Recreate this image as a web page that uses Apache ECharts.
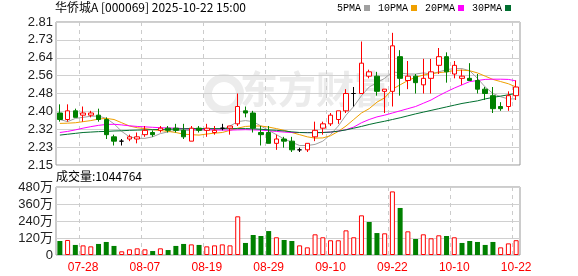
<!DOCTYPE html>
<html><head><meta charset="utf-8">
<script src="https://cdn.jsdelivr.net/npm/echarts@6/dist/echarts.min.js"></script>
<style>html,body{margin:0;padding:0;background:#fff}#c{width:578px;height:276px}</style>
</head><body><div id="c"></div>
<script>
const dates = ['07-23','07-24','07-25','07-28','07-29','07-30','07-31','08-01','08-04','08-05','08-06','08-07','08-08','08-11','08-12','08-13','08-14','08-15','08-18','08-19','08-20','08-21','08-22','08-25','08-26','08-27','08-28','08-29','09-01','09-02','09-03','09-04','09-05','09-08','09-09','09-10','09-11','09-12','09-15','09-16','09-17','09-18','09-19','09-22','09-23','09-24','09-25','09-26','09-29','09-30','10-09','10-10','10-13','10-14','10-15','10-16','10-17','10-20','10-21','10-22'];
const opens  = [2.39,2.36,2.40,2.38,2.38,2.38,2.36,2.28,2.26,2.27,2.27,2.29,2.30,2.31,2.32,2.32,2.31,2.26,2.32,2.31,2.30,2.32,2.32,2.34,2.40,2.39,2.30,2.30,2.25,2.27,2.26,2.22,2.22,2.28,2.32,2.34,2.36,2.40,2.48,2.48,2.56,2.56,2.49,2.49,2.65,2.54,2.56,2.52,2.55,2.61,2.65,2.57,2.55,2.55,2.54,2.50,2.47,2.42,2.42,2.47];
const closes = [2.36,2.40,2.37,2.39,2.39,2.36,2.29,2.26,2.26,2.28,2.28,2.31,2.29,2.32,2.31,2.31,2.28,2.32,2.31,2.32,2.31,2.32,2.33,2.42,2.39,2.32,2.29,2.25,2.27,2.26,2.22,2.22,2.25,2.31,2.34,2.38,2.40,2.48,2.48,2.62,2.58,2.49,2.50,2.70,2.55,2.56,2.53,2.55,2.58,2.65,2.58,2.61,2.56,2.54,2.50,2.48,2.41,2.41,2.47,2.51];
const lows   = [2.35,2.35,2.37,2.35,2.37,2.35,2.27,2.24,2.24,2.26,2.25,2.28,2.28,2.30,2.30,2.30,2.27,2.26,2.30,2.28,2.29,2.31,2.29,2.33,2.37,2.30,2.24,2.25,2.22,2.23,2.21,2.21,2.21,2.26,2.29,2.33,2.34,2.39,2.42,2.48,2.55,2.47,2.39,2.42,2.47,2.50,2.48,2.48,2.48,2.57,2.53,2.55,2.52,2.54,2.48,2.45,2.39,2.40,2.40,2.45];
const highs  = [2.43,2.43,2.41,2.42,2.40,2.41,2.37,2.29,2.27,2.29,2.30,2.33,2.31,2.33,2.33,2.34,2.34,2.33,2.33,2.34,2.33,2.34,2.33,2.48,2.42,2.40,2.33,2.33,2.29,2.28,2.28,2.23,2.25,2.35,2.35,2.39,2.40,2.50,2.51,2.72,2.59,2.58,2.50,2.76,2.68,2.63,2.57,2.64,2.64,2.69,2.67,2.63,2.59,2.62,2.57,2.51,2.51,2.44,2.49,2.54];
const volumes = [990000,1060000,710000,680000,610000,780000,920000,640000,260000,400000,470000,400000,280000,470000,350000,640000,780000,750000,710000,610000,680000,750000,680000,2730000,850000,1410000,1340000,1690000,1250000,1060000,990000,680000,540000,1460000,1250000,1040000,1040000,1740000,1250000,2800000,2330000,1550000,1530000,4490000,3320000,1670000,1130000,1460000,1180000,1390000,1340000,1250000,850000,990000,920000,710000,920000,540000,820000,1044764];
const volUp = [0,1,0,1,1,0,0,0,1,1,1,1,0,1,0,0,0,1,0,1,1,1,1,1,0,0,0,0,1,0,0,1,1,1,1,1,1,1,1,1,0,0,1,1,0,1,0,1,1,1,0,1,0,0,0,0,0,1,1,1];
const ma5  = [2.36,2.35,2.365,2.37,2.375,2.376,2.365,2.34,2.305,2.28,2.273,2.273,2.28,2.295,2.303,2.31,2.31,2.31,2.31,2.312,2.313,2.314,2.33,2.35,2.355,2.35,2.33,2.31,2.29,2.27,2.255,2.24,2.24,2.245,2.26,2.29,2.33,2.38,2.42,2.47,2.51,2.53,2.55,2.58,2.575,2.57,2.57,2.575,2.57,2.58,2.59,2.595,2.595,2.585,2.55,2.51,2.48,2.465,2.455,2.455];
const ma10 = [2.342,2.343,2.345,2.35,2.355,2.362,2.365,2.36,2.345,2.33,2.322,2.318,2.313,2.309,2.305,2.30,2.292,2.29,2.288,2.293,2.297,2.30,2.31,2.32,2.328,2.33,2.33,2.325,2.318,2.31,2.30,2.29,2.28,2.274,2.275,2.285,2.305,2.33,2.36,2.39,2.41,2.44,2.46,2.50,2.52,2.54,2.555,2.565,2.572,2.576,2.58,2.586,2.588,2.585,2.575,2.56,2.545,2.535,2.525,2.51];
const ma20 = [2.30,2.305,2.312,2.32,2.327,2.333,2.337,2.338,2.335,2.331,2.328,2.326,2.324,2.322,2.321,2.32,2.318,2.316,2.314,2.313,2.312,2.311,2.311,2.312,2.313,2.312,2.311,2.308,2.305,2.302,2.30,2.30,2.30,2.30,2.30,2.302,2.306,2.313,2.325,2.345,2.36,2.372,2.38,2.39,2.40,2.41,2.42,2.435,2.45,2.47,2.488,2.505,2.52,2.535,2.54,2.545,2.546,2.546,2.545,2.538];
const ma30 = [2.288,2.292,2.296,2.30,2.302,2.304,2.305,2.307,2.308,2.31,2.311,2.312,2.313,2.314,2.315,2.316,2.317,2.318,2.318,2.318,2.318,2.318,2.318,2.318,2.318,2.317,2.315,2.312,2.31,2.307,2.303,2.30,2.299,2.299,2.30,2.302,2.306,2.312,2.32,2.328,2.337,2.345,2.352,2.36,2.368,2.377,2.386,2.394,2.402,2.41,2.418,2.426,2.434,2.44,2.446,2.455,2.462,2.468,2.474,2.481];
const priceTicks = ['2.15','2.23','2.32','2.40','2.48','2.56','2.64','2.73','2.81'];
const volTicks = ['0','120万','240万','360万','480万'];
const maNames = ['5PMA','10PMA','20PMA','30PMA'];
const titleText = '华侨城A [000069] 2025-10-22 15:00';

const P0 = 2.15, PSTEP = 0.0825;      // price axis: lowest tick and tick step
const toU = p => (p - P0) / PSTEP;     // price -> axis units (one unit per tick)
const VSTEP = 1200000;

const chart = echarts.init(document.getElementById('c'), null, {renderer: 'canvas'});
const labelIdx = (i) => (i - 3) % 8 === 0;
const candleData = opens.map((o, i) => [toU(o), toU(closes[i]), toU(lows[i]), toU(highs[i])]);
const volData = volumes.map((v, i) => ({
  value: v,
  itemStyle: volUp[i] ? {color: '#ffffff', borderColor: '#ff0000', borderWidth: 1} : {color: '#008000', borderColor: '#008000', borderWidth: 0}
}));
const maColors = ['#a0a0a0', '#f0a000', '#ff00ff', '#006f2f'];
const maSeries = [ma5, ma10, ma20, ma30].map((arr, k) => ({
  name: maNames[k], type: 'line', xAxisIndex: 0, yAxisIndex: 0,
  data: arr.map(toU), symbol: 'none', silent: true,
  lineStyle: {width: 1, color: maColors[k]}, itemStyle: {color: maColors[k]}, z: 3
}));

chart.setOption({
  animation: false,
  backgroundColor: '#ffffff',
  title: [
    {text: titleText, left: 55, top: 1, padding: 0, textStyle: {fontSize: 12, fontWeight: 'normal', color: '#000', fontFamily: '"Noto Sans CJK SC", sans-serif'}},
    {text: '成交量:' + volumes[volumes.length - 1], left: 56, top: 170, padding: 0, textStyle: {fontSize: 12, fontWeight: 'normal', color: '#000', fontFamily: '"Noto Sans CJK SC", sans-serif'}}
  ],
  legend: {
    data: maNames, right: 67, top: 3, padding: 0, align: 'right', icon: 'rect',
    itemWidth: 6, itemHeight: 6, itemGap: 8, selectedMode: false,
    textStyle: {fontSize: 10, color: '#000', fontFamily: '"Liberation Mono", monospace', padding: [0, -2, 0, 0]}
  },
  graphic: [
    {type: 'circle', left: 204, top: 74, z: 0, silent: true, shape: {r: 16}, style: {fill: 'none', stroke: '#ececec', lineWidth: 8}},
    {type: 'text', left: 240, top: 70, z: 0, silent: true,
     style: {text: '东方财富', font: 'bold 38px "Noto Sans CJK SC"', fill: '#ebebeb'}}
  ],
  grid: [
    {left: 56, top: 22, width: 464, height: 143, show: true, borderColor: '#999', borderWidth: 1},
    {left: 56, top: 187, width: 464, height: 68, show: true, borderColor: '#999', borderWidth: 1}
  ],
  xAxis: [
    {type: 'category', gridIndex: 0, data: dates, boundaryGap: true,
     axisLine: {show: false}, axisTick: {show: false}, axisLabel: {show: false},
     splitLine: {show: true, interval: labelIdx, lineStyle: {color: '#cccccc', type: [4, 4], width: 1}}},
    {type: 'category', gridIndex: 1, data: dates, boundaryGap: true,
     axisLine: {show: false}, axisTick: {show: false},
     axisLabel: {show: true, interval: labelIdx, color: '#ff0000', fontSize: 12, margin: 7, fontFamily: '"Liberation Sans", sans-serif'},
     splitLine: {show: true, interval: labelIdx, lineStyle: {color: '#cccccc', type: [4, 4], width: 1}}}
  ],
  yAxis: [
    {type: 'value', gridIndex: 0, min: 0, max: priceTicks.length - 1, interval: 1,
     axisLine: {show: false}, axisTick: {show: false},
     axisLabel: {color: '#222', fontSize: 13, margin: 3, fontFamily: '"Liberation Sans", sans-serif',
       formatter: v => priceTicks[Math.round(v)]},
     splitLine: {lineStyle: {color: '#d0d0d0', width: 1}}},
    {type: 'value', gridIndex: 1, min: 0, max: VSTEP * (volTicks.length - 1), interval: VSTEP,
     axisLine: {show: false}, axisTick: {show: false},
     axisLabel: {color: '#222', fontSize: 13, margin: 3, fontFamily: '"Liberation Sans", "Noto Sans CJK SC", sans-serif',
       formatter: v => volTicks[Math.round(v / VSTEP)]},
     splitLine: {lineStyle: {color: '#d0d0d0', width: 1}}}
  ],
  series: [
    {type: 'candlestick', xAxisIndex: 0, yAxisIndex: 0, data: candleData, barWidth: 5, z: 4, silent: true,
     itemStyle: {color: '#ffffff', color0: '#008000', borderColor: '#ff0000', borderColor0: '#008000', borderColorDoji: '#000000', borderWidth: 1}},
    ...maSeries,
    {type: 'bar', xAxisIndex: 1, yAxisIndex: 1, data: volData, barWidth: 5, silent: true}
  ]
});
</script>
</body></html>
